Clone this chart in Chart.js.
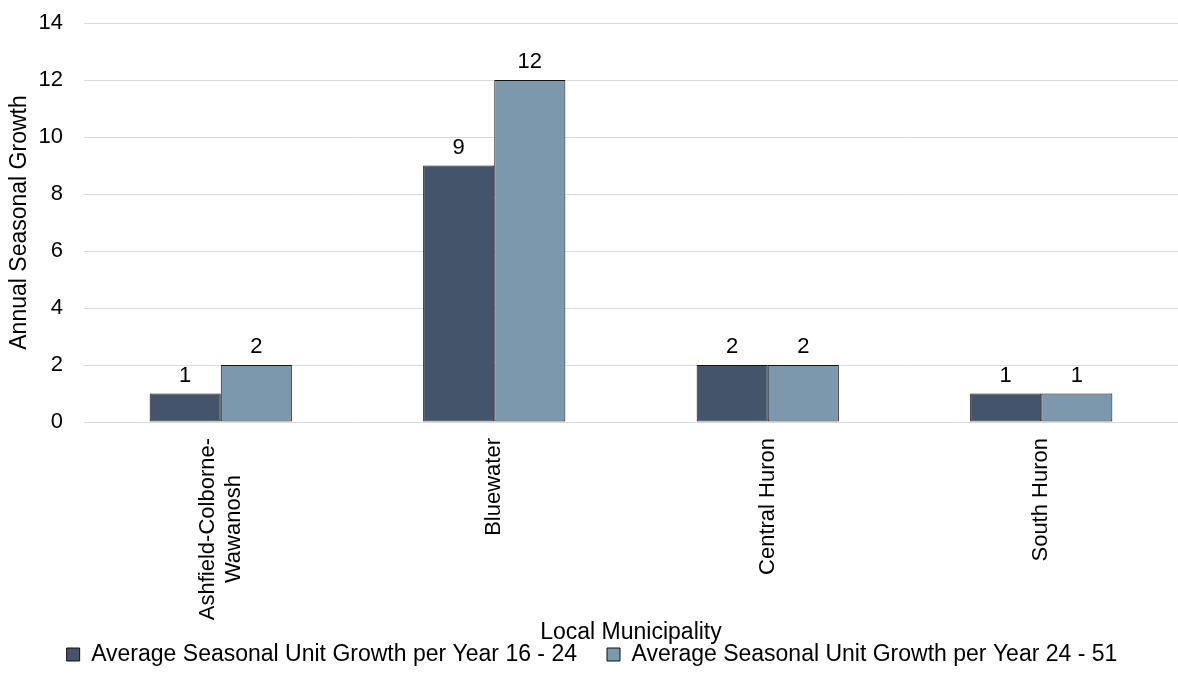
<!DOCTYPE html>
<html>
<head>
<meta charset="utf-8">
<script src="https://cdn.jsdelivr.net/npm/chart.js@4.4.0/dist/chart.umd.min.js"></script>
<style>
  html, body { margin: 0; padding: 0; background: #fff; }
  #wrap { width: 1178px; height: 679px; }
</style>
</head>
<body>
<div id="wrap"><canvas id="grafico"></canvas></div>
<script>
// Datos del gráfico
const municipios = [['Ashfield-Colborne-', 'Wawanosh'], 'Bluewater', 'Central Huron', 'South Huron'];
const crecimiento16a24 = [1, 9, 2, 1];
const crecimiento24a51 = [2, 12, 2, 1];
const nombresSeries = [
    'Average Seasonal Unit Growth per Year 16 - 24',
    'Average Seasonal Unit Growth per Year 24 - 51'
];

const fuente = "'Liberation Sans', Arial, sans-serif";
const tamTexto = 23;
const tamEtiquetaX = 22;
const sepEtiquetaX = 16;
const altoEjeX = 191;   // alto fijo de la zona del eje X
const anchoEjeY = 78;   // ancho fijo de la zona del eje Y

// Etiquetas encima de cada barra
const etiquetasBarras = {
    id: 'etiquetasBarras',
    afterDatasetsDraw(chart) {
        const ctx = chart.ctx;
        ctx.save();
        ctx.font = '22px ' + fuente;
        ctx.fillStyle = '#000';
        ctx.textAlign = 'center';
        ctx.textBaseline = 'alphabetic';
        chart.data.datasets.forEach((ds, i) => {
            chart.getDatasetMeta(i).data.forEach((bar, j) => {
                ctx.fillText(ds.data[j], bar.x, bar.y - 12);
            });
        });
        ctx.restore();
    }
};

// Etiquetas del eje X giradas, con las líneas centradas entre sí
const etiquetasEjeX = {
    id: 'etiquetasEjeX',
    afterDraw(chart) {
        const escala = chart.scales.x;
        const ctx = chart.ctx;
        ctx.save();
        ctx.font = tamEtiquetaX + 'px ' + fuente;
        ctx.fillStyle = '#000';
        ctx.textAlign = 'center';
        ctx.textBaseline = 'middle';
        const altoLinea = tamEtiquetaX * 1.2;
        chart.data.labels.forEach((lab, i) => {
            const lineas = Array.isArray(lab) ? lab : [lab];
            const ancho = Math.max(...lineas.map(l => ctx.measureText(l).width));
            const x = escala.getPixelForTick(i);
            ctx.save();
            ctx.translate(x, escala.top + sepEtiquetaX);
            ctx.rotate(-Math.PI / 2);
            lineas.forEach((l, k) => {
                const off = (k - (lineas.length - 1) / 2) * altoLinea;
                ctx.fillText(l, -ancho / 2, off);
            });
            ctx.restore();
        });
        ctx.restore();
    }
};

const ctx = document.getElementById('grafico').getContext('2d');
new Chart(ctx, {
    type: 'bar',
    data: {
        labels: municipios,
        datasets: [
            {
                label: nombresSeries[0],
                data: crecimiento16a24,
                backgroundColor: '#44546A',
                borderColor: '#111',
                borderWidth: 1,
                borderSkipped: false
            },
            {
                label: nombresSeries[1],
                data: crecimiento24a51,
                backgroundColor: '#7C98AD',
                borderColor: '#111',
                borderWidth: 1,
                borderSkipped: false
            }
        ]
    },
    options: {
        responsive: true,
        maintainAspectRatio: false,
        animation: false,
        layout: { padding: { top: 23, right: 0, left: 6, bottom: 3 } },
        datasets: {
            bar: { barPercentage: 1, categoryPercentage: 0.52 }
        },
        scales: {
            x: {
                grid: { display: false, drawTicks: false },
                border: { color: '#d9d9d9' },
                ticks: {
                    color: 'rgba(0,0,0,0)',
                    font: { family: fuente, size: tamEtiquetaX },
                    minRotation: 90,
                    maxRotation: 90,
                    padding: sepEtiquetaX
                },
                title: {
                    display: true,
                    text: 'Local Municipality',
                    color: '#000',
                    font: { family: fuente, size: tamTexto },
                    padding: { top: 0, bottom: -33 }
                },
                afterFit(escala) {
                    escala.height = altoEjeX;
                    escala.paddingLeft = 0;
                    escala.paddingRight = 0;
                }
            },
            y: {
                min: 0,
                max: 14,
                ticks: {
                    stepSize: 2,
                    color: '#000',
                    font: { family: fuente, size: 22 },
                    padding: 21
                },
                grid: { color: '#d9d9d9', drawTicks: false },
                border: { display: false },
                title: {
                    display: true,
                    text: 'Annual Seasonal Growth',
                    color: '#000',
                    font: { family: fuente, size: tamTexto },
                    padding: { top: 0, bottom: 8 }
                },
                afterFit(escala) {
                    escala.width = anchoEjeY;
                    escala.paddingTop = 0;
                    escala.paddingBottom = 0;
                }
            }
        },
        plugins: {
            legend: {
                position: 'bottom',
                labels: {
                    color: '#000',
                    font: { family: fuente, size: tamTexto },
                    boxWidth: 13,
                    boxHeight: 13,
                    padding: 30
                }
            },
            tooltip: { enabled: false }
        }
    },
    plugins: [etiquetasBarras, etiquetasEjeX]
});
</script>
</body>
</html>
